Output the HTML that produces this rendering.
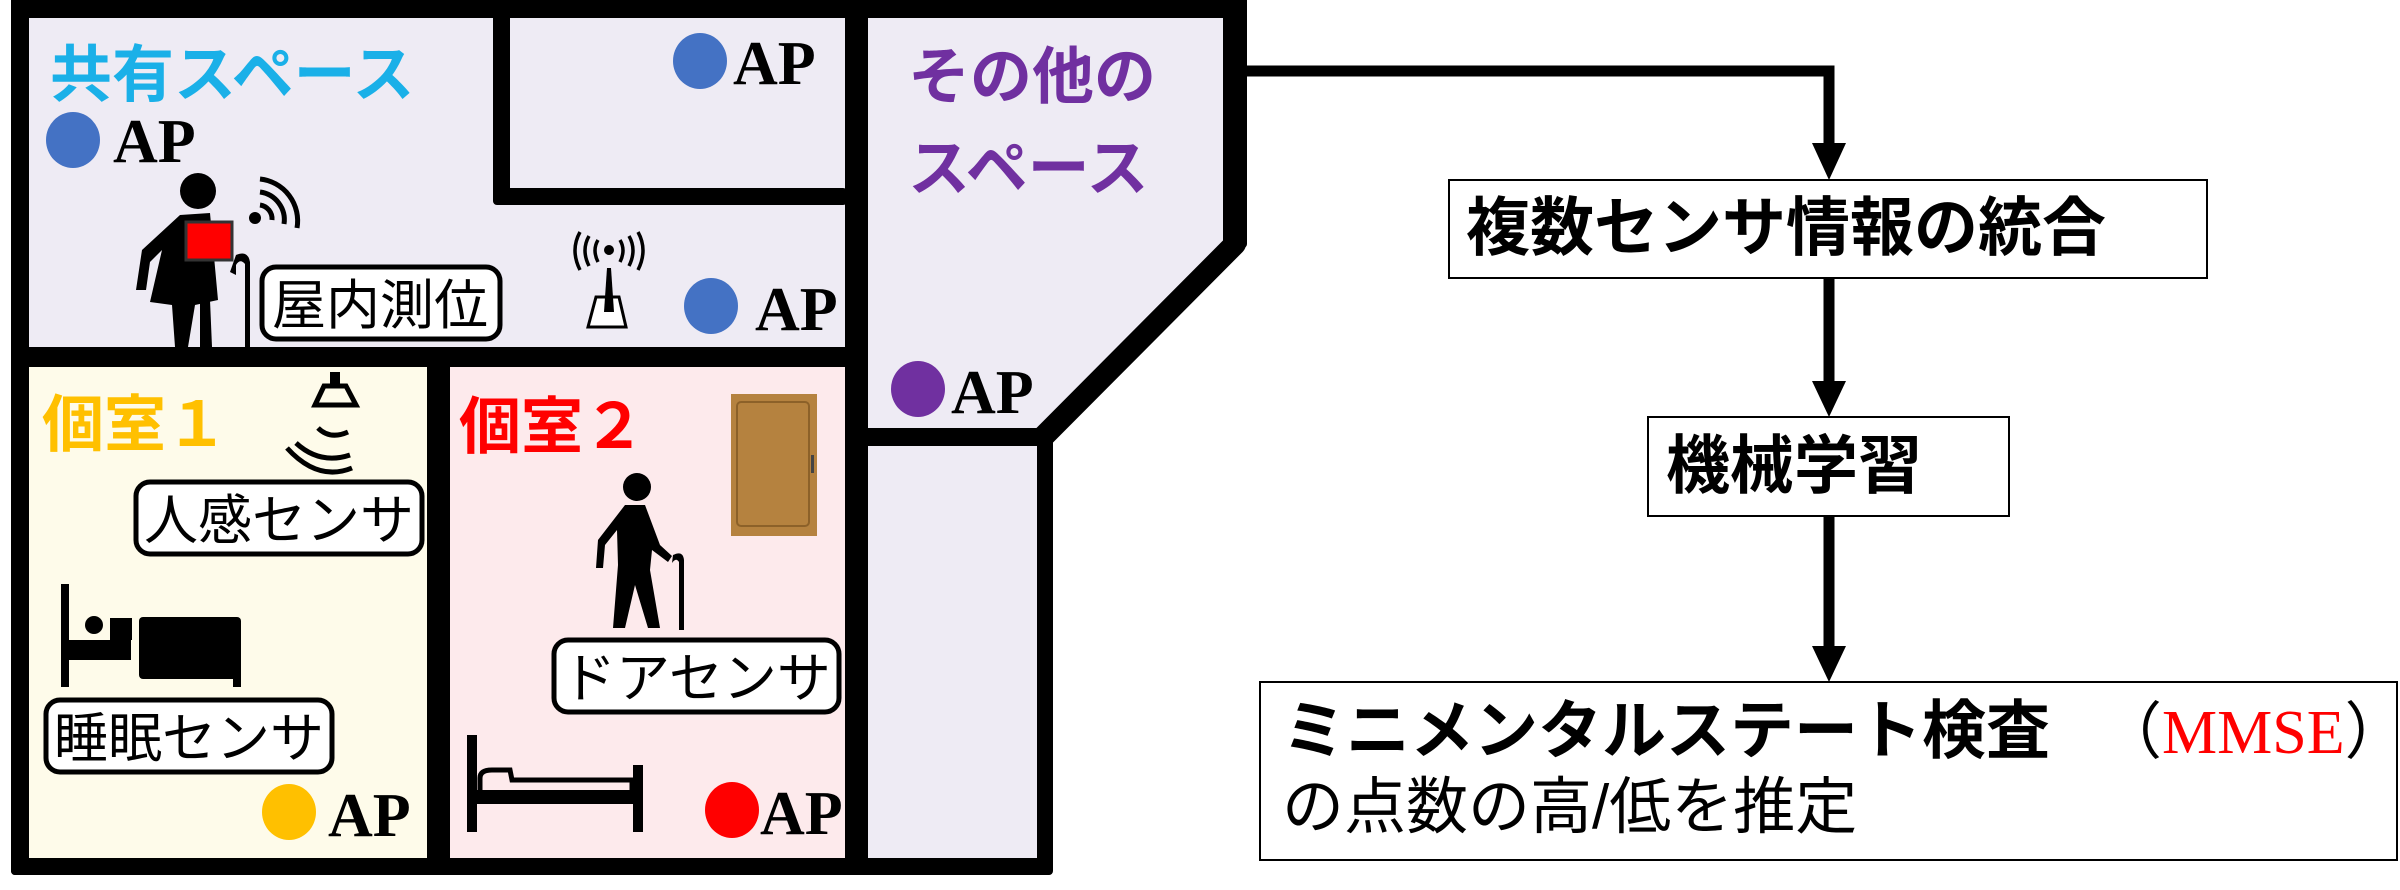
<!DOCTYPE html>
<html><head><meta charset="utf-8"><style>
html,body{margin:0;padding:0;background:#fff;}
svg{display:block;}
.jp{font-family:"Liberation Sans","Noto Sans CJK JP",sans-serif;}
.ap{font-family:"Liberation Serif",serif;font-weight:bold;font-size:62px;fill:#000;}
</style></head><body>
<svg width="2400" height="890" viewBox="0 0 2400 890" xmlns="http://www.w3.org/2000/svg">
<!-- fills -->
<rect x="28" y="17" width="820" height="332" fill="#eeebf4"/>
<rect x="28" y="366" width="400" height="494" fill="#fefbea"/>
<rect x="450" y="366" width="398" height="494" fill="#fdeaec"/>
<polygon points="868,17 1224,17 1224,242 1040,430 868,430" fill="#eeebf4"/>
<rect x="868" y="444" width="170" height="416" fill="#eeebf4"/>
<!-- walls -->
<g fill="#000">
<rect x="11" y="0" width="1236" height="18"/>
<rect x="11" y="0" width="18" height="875" rx="4"/>
<rect x="11" y="858" width="1041" height="17" rx="4"/>
<rect x="493" y="0" width="17" height="204" rx="4"/>
<rect x="493" y="188" width="354" height="17" rx="4"/>
<rect x="845" y="0" width="23" height="875"/>
<rect x="11" y="347" width="857" height="20"/>
<rect x="427" y="347" width="23" height="528"/>
<rect x="1223" y="0" width="24" height="248" rx="4"/>
<rect x="868" y="428" width="182" height="18"/>
<rect x="1037" y="428" width="16" height="447" rx="4"/>
</g>
<line x1="1235" y1="244" x2="1044" y2="436" stroke="#000" stroke-width="22" stroke-linecap="round"/>
<!-- flow -->
<polyline points="1247,71 1829,71 1829,148" fill="none" stroke="#000" stroke-width="11"/>
<polygon points="1812,143 1846,143 1829,180" fill="#000"/>
<line x1="1829" y1="278" x2="1829" y2="385" stroke="#000" stroke-width="11"/>
<polygon points="1812,381 1846,381 1829,417" fill="#000"/>
<line x1="1829" y1="516" x2="1829" y2="650" stroke="#000" stroke-width="11"/>
<polygon points="1812,646 1846,646 1829,682" fill="#000"/>
<rect x="1449" y="180" width="758" height="98" fill="#fff" stroke="#000" stroke-width="2"/>
<rect x="1648" y="417" width="361" height="99" fill="#fff" stroke="#000" stroke-width="2"/>
<rect x="1260" y="682" width="1137" height="178" fill="#fff" stroke="#000" stroke-width="2"/>
<text class="jp" x="1466" y="250" font-size="64" font-weight="bold">複数センサ情報の統合</text>
<text class="jp" x="1666" y="488" font-size="64" font-weight="bold">機械学習</text>
<text class="jp" x="1282" y="753" font-size="64" font-weight="bold">ミニメンタルステート検査</text>
<text x="2100" y="753" font-size="62" font-family="Liberation Serif,serif">（<tspan fill="#ff0000">MMSE</tspan>）</text>
<text class="jp" x="1282" y="828" font-size="62">の点数の高/低を推定</text>
<!-- room titles -->
<g class="jp" font-weight="bold" font-size="62">
<text x="50" y="96" fill="#1ab0e8">共有スペース</text>
<text x="908" y="98" fill="#7030a0">その他の</text>
<text x="908" y="190" fill="#7030a0">スペース</text>
<text x="42" y="446" fill="#ffc000">個室１</text>
<text x="459" y="448" fill="#ff0000">個室２</text>
</g>
<!-- APs -->
<ellipse cx="73" cy="140" rx="27" ry="28" fill="#4472c4"/><text class="ap" x="113" y="162">AP</text>
<ellipse cx="700" cy="61" rx="27" ry="28" fill="#4472c4"/><text class="ap" x="733" y="84">AP</text>
<ellipse cx="711" cy="306" rx="27" ry="28" fill="#4472c4"/><text class="ap" x="755" y="330">AP</text>
<ellipse cx="918" cy="389" rx="27" ry="28" fill="#7030a0"/><text class="ap" x="951" y="413">AP</text>
<ellipse cx="289" cy="812" rx="27" ry="28" fill="#ffc000"/><text class="ap" x="328" y="836">AP</text>
<ellipse cx="732" cy="810" rx="27" ry="28" fill="#ff0000"/><text class="ap" x="760" y="834">AP</text>
<!-- labels -->
<g fill="#fff" stroke="#000" stroke-width="5">
<rect x="262" y="267" width="238" height="72" rx="14"/>
<rect x="136" y="482" width="286" height="72" rx="14"/>
<rect x="46" y="700" width="286" height="72" rx="14"/>
<rect x="554" y="640" width="285" height="72" rx="14"/>
</g>
<g class="jp" font-size="54">
<text x="272" y="324">屋内測位</text>
<text x="144" y="539">人感センサ</text>
<text x="54" y="757">睡眠センサ</text>
<text x="562" y="697">ドアセンサ</text>
</g>
<!-- woman with tablet -->
<g fill="#000">
<circle cx="198" cy="191" r="18"/>
<path d="M180 215 L210 213 L218 300 L195 305 L188 347 L175 347 L172 305 L150 302 L162 250 L150 262 L146 290 L136 290 L142 250 Z"/>
<path d="M200 300 L210 300 L212 347 L200 347 Z"/>
<path d="M236 255 Q248 250 250 262 L250 347 L245 347 L245 264 Q240 258 236 265 L236 275 L230 272 Z"/>
<circle cx="255" cy="218" r="6"/>
</g>
<rect x="186" y="222" width="46" height="38" fill="#ff0000" stroke="#333" stroke-width="3"/>
<g fill="none" stroke="#000" stroke-width="5">
<path d="M260 205 A14 14 0 0 1 272 220"/>
<path d="M260 192 A28 28 0 0 1 284 224"/>
<path d="M260 179 A42 42 0 0 1 297 228"/>
</g>
<!-- antenna -->
<path d="M588 327 L596 297 L619 297 L626 327 Z" fill="#fff" stroke="#000" stroke-width="3"/>
<path d="M604 312 L607 268 L611 268 L614 312 Z" fill="#000"/>
<circle cx="609" cy="250" r="5" fill="#000"/>
<g fill="none" stroke="#000" stroke-width="3.5">
<path d="M598 240 Q592 250 598 262"/><path d="M620 240 Q626 250 620 262"/>
<path d="M589 236 Q581 250 589 266"/><path d="M629 236 Q637 250 629 266"/>
<path d="M580 232 Q570 250 580 270"/><path d="M638 232 Q648 250 638 270"/>
</g>
<!-- ceiling light -->
<rect x="330" y="372" width="10" height="14" fill="#000"/>
<path d="M315 405 L324 386 L346 386 L356 405 Z" fill="none" stroke="#000" stroke-width="5"/>
<g fill="none" stroke="#000" stroke-width="5">
<path d="M318 428 Q330 440 348 432"/>
<path d="M296 443 Q320 465 350 455"/>
<path d="M287 448 Q318 482 352 468"/>
</g>
<!-- bed 1 -->
<g fill="#000">
<rect x="61" y="584" width="8" height="103"/>
<rect x="61" y="640" width="70" height="20"/>
<circle cx="94" cy="625" r="9"/>
<rect x="110" y="618" width="22" height="22"/>
<rect x="139" y="617" width="102" height="62" rx="4"/>
<rect x="233" y="660" width="8" height="27"/>
</g>
<!-- elder -->
<g fill="#000">
<circle cx="637" cy="487" r="14"/>
<path d="M625 505 L645 505 L660 545 L672 556 L668 562 L652 550 L650 570 L660 628 L648 628 L635 585 L625 628 L613 628 L618 565 L617 530 L605 545 L603 568 L596 568 L598 540 Z"/>
<path d="M673 555 Q683 550 684 560 L684 630 L679 630 L679 562 Q676 557 672 563 Z"/>
</g>
<!-- door -->
<rect x="731" y="394" width="86" height="142" fill="#b5823f"/>
<rect x="737" y="402" width="72" height="124" rx="4" fill="none" stroke="#8c6129" stroke-width="2"/>
<rect x="811" y="455" width="3" height="18" fill="#444"/>
<!-- bed 2 -->
<g fill="#000">
<rect x="467" y="735" width="10" height="97"/>
<rect x="477" y="790" width="160" height="14"/>
<rect x="633" y="765" width="10" height="67"/>
</g>
<path d="M480 790 L480 778 Q480 770 492 770 L510 770 L512 780 L632 780 L632 790" fill="none" stroke="#000" stroke-width="5"/>
</svg>
</body></html>
